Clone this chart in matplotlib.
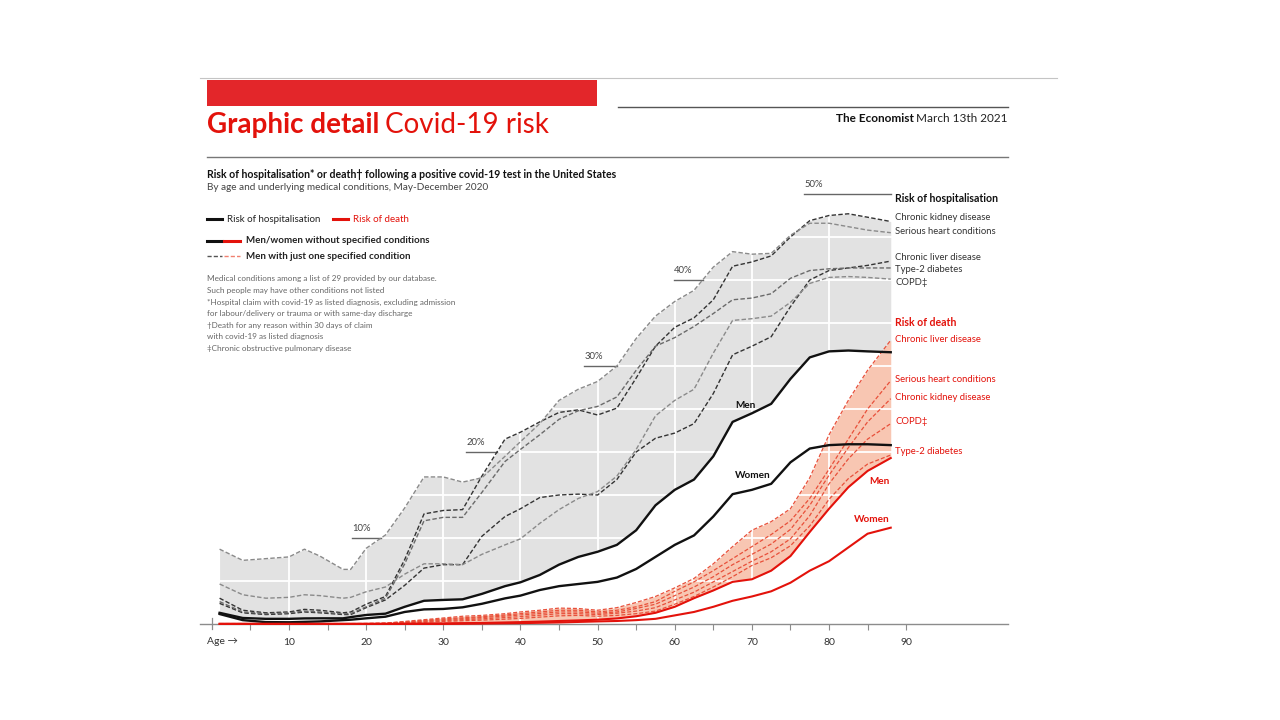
import numpy as np
import matplotlib.pyplot as plt
from matplotlib.lines import Line2D
from matplotlib.patches import Rectangle

# age grid (years)
ages = [1, 4, 7, 10, 12, 14, 17, 18, 20, 22.5, 25, 27.5, 30, 32.5, 35, 38, 40, 42.5, 45, 47.5,
        50, 52.5, 55, 57.5, 60, 62.5, 65, 67.5, 70, 72.5, 75, 77.5, 80, 82.5, 85, 88]

# risk of hospitalisation, %
hosp_men = [1.3, 0.7, 0.6, 0.6, 0.65, 0.66, 0.66, 0.8, 1.05, 1.2, 2.0, 2.7, 2.8, 2.87, 3.5, 4.4, 4.85, 5.7, 6.9, 7.8,
            8.4, 9.2, 10.9, 13.8, 15.6, 16.8, 19.5, 23.5, 24.5, 25.6, 28.5, 31.0, 31.7, 31.8, 31.7, 31.6]
hosp_women = [1.16, 0.45, 0.22, 0.2, 0.25, 0.3, 0.45, 0.5, 0.66, 0.85, 1.4, 1.7, 1.75, 1.94, 2.35, 2.98, 3.3, 3.95, 4.4, 4.65,
              4.9, 5.4, 6.4, 7.8, 9.2, 10.3, 12.5, 15.1, 15.6, 16.3, 18.8, 20.4, 20.8, 20.9, 20.9, 20.8]
hosp_kidney = [3.0, 1.6, 1.3, 1.4, 1.7, 1.6, 1.3, 1.4, 2.3, 3.2, 7.5, 12.8, 13.2, 13.3, 17.2, 21.5, 22.3, 23.5, 24.6, 24.9,
               24.3, 25.1, 28.6, 32.3, 34.5, 35.6, 37.7, 41.6, 42.1, 42.8, 45.0, 46.9, 47.5, 47.7, 47.3, 46.8]
hosp_heart = [8.7, 7.4, 7.6, 7.8, 8.7, 7.9, 6.35, 6.35, 8.8, 10.35, 13.5, 17.1, 17.1, 16.5, 17.0, 19.5, 21.2, 23.3, 26.0, 27.3,
              28.2, 30.0, 33.2, 35.8, 37.5, 38.8, 41.5, 43.3, 43.0, 43.1, 45.2, 46.6, 46.6, 46.2, 45.8, 45.5]
hosp_liver = [2.4, 1.3, 1.1, 1.2, 1.4, 1.3, 1.1, 1.1, 1.9, 2.8, 4.5, 6.5, 6.9, 6.9, 10.2, 12.5, 13.4, 14.7, 15.0, 15.1,
              15.0, 16.8, 20.0, 21.6, 22.2, 23.3, 26.8, 31.3, 32.3, 33.4, 36.9, 40.0, 41.1, 41.4, 41.7, 42.2]
hosp_diabetes = [2.6, 1.4, 1.2, 1.3, 1.5, 1.4, 1.2, 1.2, 2.0, 3.0, 7.0, 12.0, 12.4, 12.4, 15.3, 18.9, 20.3, 22.0, 23.8, 24.8,
                 25.3, 26.4, 29.5, 32.3, 33.3, 34.6, 36.1, 37.7, 37.9, 38.4, 40.2, 41.1, 41.3, 41.4, 41.4, 41.4]
hosp_copd = [4.65, 3.4, 3.0, 3.1, 3.4, 3.3, 3.0, 3.1, 3.75, 4.3, 5.8, 7.0, 7.0, 6.9, 8.1, 9.2, 9.9, 11.7, 13.3, 14.6,
             15.4, 17.2, 20.3, 24.2, 26.0, 27.3, 31.5, 35.3, 35.5, 35.8, 37.4, 39.6, 40.3, 40.4, 40.3, 40.1]

# risk of death, %
death_men = [0.02, 0.02, 0.02, 0.02, 0.02, 0.02, 0.02, 0.02, 0.02, 0.02, 0.03, 0.05, 0.07, 0.1, 0.12, 0.18, 0.22, 0.28, 0.35, 0.42,
             0.5, 0.65, 0.9, 1.3, 2.0, 3.0, 3.9, 4.9, 5.2, 6.2, 7.9, 10.7, 13.4, 15.9, 17.8, 19.3]
death_women = [0.01, 0.01, 0.01, 0.01, 0.01, 0.01, 0.01, 0.01, 0.01, 0.01, 0.01, 0.01, 0.01, 0.03, 0.05, 0.08, 0.1, 0.14, 0.18, 0.24,
               0.3, 0.35, 0.45, 0.6, 1.0, 1.4, 2.0, 2.7, 3.2, 3.8, 4.8, 6.2, 7.3, 8.9, 10.5, 11.2]
death_liver = [0.05, 0.05, 0.05, 0.05, 0.05, 0.05, 0.05, 0.05, 0.06, 0.1, 0.3, 0.5, 0.7, 0.9, 1.0, 1.2, 1.4, 1.6, 1.85, 1.8,
               1.6, 1.9, 2.5, 3.2, 4.2, 5.3, 7.0, 9.0, 10.9, 11.9, 13.4, 17.0, 22.0, 26.0, 29.5, 33.0]
death_heart = [0.04, 0.04, 0.04, 0.04, 0.04, 0.04, 0.04, 0.04, 0.05, 0.08, 0.25, 0.42, 0.6, 0.72, 0.85, 1.05, 1.2, 1.4, 1.6, 1.6,
               1.4, 1.6, 2.0, 2.6, 3.8, 4.9, 6.2, 7.6, 9.0, 10.4, 12.0, 14.6, 18.0, 21.5, 25.0, 28.3]
death_kidney = [0.03, 0.03, 0.03, 0.03, 0.03, 0.03, 0.03, 0.03, 0.04, 0.07, 0.2, 0.35, 0.5, 0.62, 0.75, 0.92, 1.05, 1.22, 1.4, 1.4,
                1.25, 1.4, 1.8, 2.3, 3.3, 4.3, 5.5, 6.9, 8.1, 9.3, 11.0, 13.8, 17.3, 20.5, 23.5, 26.2]
death_copd = [0.03, 0.03, 0.03, 0.03, 0.03, 0.03, 0.03, 0.03, 0.03, 0.05, 0.15, 0.28, 0.4, 0.5, 0.6, 0.75, 0.85, 1.02, 1.2, 1.2,
              1.1, 1.25, 1.5, 1.9, 2.8, 3.7, 4.9, 6.1, 7.3, 8.4, 9.9, 12.6, 16.3, 19.2, 21.5, 23.3]
death_diabetes = [0.02, 0.02, 0.02, 0.02, 0.02, 0.02, 0.02, 0.02, 0.02, 0.04, 0.1, 0.2, 0.3, 0.38, 0.45, 0.56, 0.65, 0.8, 0.95, 1.0,
                  0.9, 1.0, 1.2, 1.5, 2.3, 3.2, 4.3, 5.5, 6.8, 7.7, 9.1, 11.4, 14.5, 16.9, 18.6, 19.65]

pct_levels = [10, 20, 30, 40, 50]
pct_label_age = [18.2, 33.0, 48.3, 59.9, 76.8]

RED = '#e3120b'
plt.rcParams['font.family'] = ['Lato', 'DejaVu Sans']

fig = plt.figure(figsize=(12.8, 7.2), dpi=100)


def fx(x):
    return x / 1280


def fy(y):
    return 1 - y / 720


def hline(x0, x1, y, color, lw=1.0, **kw):
    fig.add_artist(Line2D([fx(x0), fx(x1)], [fy(y), fy(y)], transform=fig.transFigure,
                          color=color, lw=lw, **kw))


# header
hline(200, 1057, 78, '#c4c4c4', 0.8)
fig.add_artist(Rectangle((fx(207), fy(106)), fx(597) - fx(207), fy(80) - fy(106),
                         transform=fig.transFigure, color='#e3262a', lw=0))
hline(618, 1008, 107, '#555555', 1.0)
hline(207, 1008, 157, '#777777', 1.0)

r = fig.canvas.get_renderer()
t1 = fig.text(fx(207), fy(133), 'Graphic detail', fontsize=20, fontweight='bold', color=RED, va='baseline')
w1 = t1.get_window_extent(r).width
fig.text(fx(207 + w1 + 6), fy(133), 'Covid-19 risk', fontsize=20, color=RED, va='baseline')
t2 = fig.text(fx(1008), fy(118), 'March 13th 2021', fontsize=8.5, color='#222222', ha='right', va='center')
w2 = t2.get_window_extent(r).width
fig.text(fx(1008 - w2 - 3), fy(118), 'The Economist', fontsize=8.5, fontweight='bold', color='#111111',
         ha='right', va='center')

fig.text(fx(207), fy(175), 'Risk of hospitalisation* or death\u2020 following a positive covid-19 test in the United States',
         fontsize=7.6, fontweight='bold', color='#111111', va='center')
fig.text(fx(207), fy(188), 'By age and underlying medical conditions, May-December 2020',
         fontsize=7.2, color='#444444', va='center')

# legend
hline(207, 222, 219, '#111111', 2.2)
fig.text(fx(227), fy(219), 'Risk of hospitalisation', fontsize=7, color='#222222', va='center')
hline(333, 348, 219, RED, 2.2)
fig.text(fx(353), fy(219), 'Risk of death', fontsize=7, color=RED, va='center')
hline(207, 222, 241, '#111111', 2.2)
hline(224, 240, 241, RED, 2.2)
fig.text(fx(246), fy(241), 'Men/women without specified conditions', fontsize=7, fontweight='bold',
         color='#222222', va='center')
hline(207, 222, 256, '#555555', 1.0, ls=(0, (3, 1.5)))
hline(224, 240, 256, '#f08070', 1.0, ls=(0, (3, 1.5)))
fig.text(fx(246), fy(256), 'Men with just one specified condition', fontsize=7, fontweight='bold',
         color='#222222', va='center')

notes = ['Medical conditions among a list of 29 provided by our database.',
         'Such people may have other conditions not listed',
         '*Hospital claim with covid-19 as listed diagnosis, excluding admission',
         'for labour/delivery or trauma or with same-day discharge',
         '\u2020Death for any reason within 30 days of claim',
         'with covid-19 as listed diagnosis',
         '\u2021Chronic obstructive pulmonary disease']
for i, s in enumerate(notes):
    fig.text(fx(207), fy(279 + i * 11.6), s, fontsize=5.9, color='#666666', va='center')

# chart
ax = fig.add_axes([200 / 1280, 96 / 720, 808 / 1280, 473 / 720])
ax.set_xlim(-1.54, 103.2)
ax.set_ylim(0, 55)
for s in ['top', 'right', 'left']:
    ax.spines[s].set_visible(False)
ax.spines['bottom'].set_color('#8c8c8c')
ax.spines['bottom'].set_linewidth(1.0)
ax.set_yticks([])
ax.set_xticks(range(10, 100, 10))
ax.set_xticks(range(5, 90, 10), minor=True)
ax.tick_params(axis='x', which='both', direction='out', length=4, width=0.8, color='#8c8c8c',
               labelsize=7.5, labelcolor='#333333', pad=6)
ax.plot([0, 0], [-0.6, 0.7], color='#8c8c8c', lw=0.9, clip_on=False)
fig.text(fx(207), fy(641), 'Age \u2192', fontsize=7.5, color='#333333', va='center')

hosp_cond = np.array([hosp_kidney, hosp_heart, hosp_liver, hosp_diabetes, hosp_copd])
death_cond = np.array([death_liver, death_heart, death_kidney, death_copd, death_diabetes])
hosp_top = hosp_cond.max(axis=0)
death_top = death_cond.max(axis=0)

ax.fill_between(ages, hosp_men, hosp_top, color='#e2e2e2', lw=0, zorder=1)
ax.fill_between(ages, death_men, death_top, color='#f8c6b2', lw=0, zorder=1)

for y in range(5, 55, 5):
    ax.axhline(y, color='white', lw=1.3, zorder=1.5)
for x in range(10, 90, 10):
    ax.axvline(x, color='white', lw=1.3, zorder=1.5)

# percentage labels with lines running up to the shaded area
for lvl, a0 in zip(pct_levels, pct_label_age):
    a = np.linspace(a0, 88, 3000)
    env = np.interp(a, ages, hosp_top)
    hit = np.nonzero(env >= lvl)[0]
    a1 = a[hit[0]] if len(hit) else 88
    ax.plot([a0, a1], [lvl, lvl], color='#666666', lw=1.0, zorder=2)
    ax.text(a0, lvl + 0.6, f'{lvl}%', fontsize=6.8, color='#444444', va='bottom', ha='left')

dash = (0, (3.2, 1.6))
hosp_styles = [(hosp_kidney, '#333333'), (hosp_heart, '#8a8a8a'), (hosp_liver, '#333333'),
               (hosp_diabetes, '#6a6a6a'), (hosp_copd, '#8a8a8a')]
for vals, c in hosp_styles:
    ax.plot(ages, vals, color=c, lw=1.0, ls=dash, zorder=3)
for vals in death_cond:
    ax.plot(ages, vals, color='#e8503a', lw=0.9, ls=dash, zorder=3, clip_on=False)

ax.plot(ages, hosp_men, color='#111111', lw=1.7, zorder=4)
ax.plot(ages, hosp_women, color='#111111', lw=1.7, zorder=4)
ax.plot(ages, death_men, color=RED, lw=1.5, zorder=4, clip_on=False)
ax.plot(ages, death_women, color=RED, lw=1.5, zorder=4, clip_on=False)

# right-hand labels
fig.text(fx(895), fy(198), 'Risk of hospitalisation', fontsize=7.6, fontweight='bold', color='#111111', va='center')
for s, y in [('Chronic kidney disease', 218), ('Serious heart conditions', 232), ('Chronic liver disease', 257),
             ('Type-2 diabetes', 270), ('COPD\u2021', 283)]:
    fig.text(fx(895), fy(y), s, fontsize=6.8, color='#333333', va='center')
fig.text(fx(895), fy(322), 'Risk of death', fontsize=7.6, fontweight='bold', color=RED, va='center')
for s, y in [('Chronic liver disease', 339), ('Serious heart conditions', 380), ('Chronic kidney disease', 398),
             ('COPD\u2021', 422), ('Type-2 diabetes', 451)]:
    fig.text(fx(895), fy(y), s, fontsize=6.8, color=RED, va='center')

fig.text(fx(890), fy(482), 'Men', fontsize=7.2, fontweight='bold', color=RED, ha='right', va='center')
fig.text(fx(890), fy(520), 'Women', fontsize=7.2, fontweight='bold', color=RED, ha='right', va='center')
fig.text(fx(745), fy(405), 'Men', fontsize=7.2, fontweight='bold', color='#111111', ha='center', va='center')
fig.text(fx(753), fy(475), 'Women', fontsize=7.2, fontweight='bold', color='#111111', ha='center', va='center')

fig.savefig('out.png', dpi=100, facecolor='white')
